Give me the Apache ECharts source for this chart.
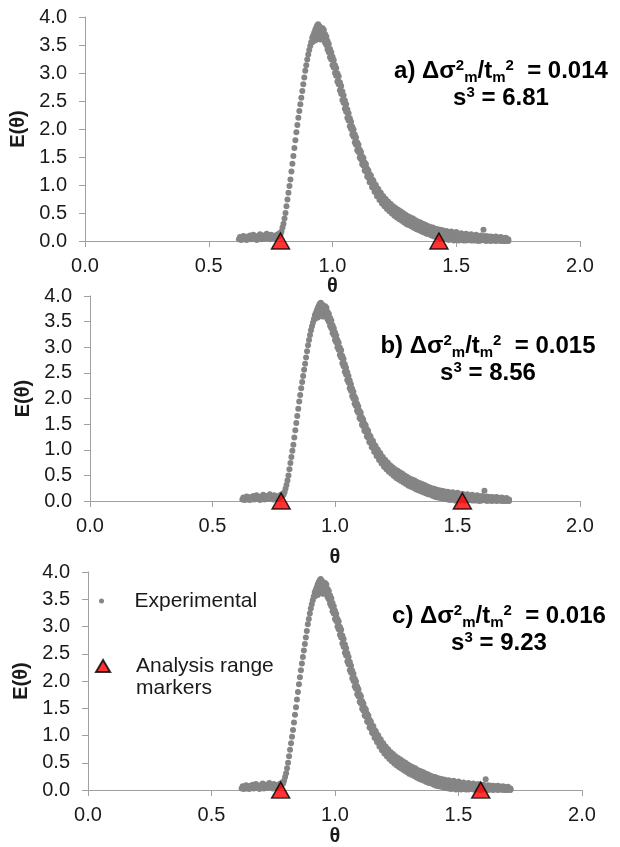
<!DOCTYPE html>
<html><head><meta charset="utf-8">
<script src="https://cdn.jsdelivr.net/npm/echarts@6/dist/echarts.min.js"></script>
<style>html,body{margin:0;padding:0;background:#fff}#c{width:620px;height:847px}</style>
</head><body><div id="c"></div>
<script>
// ---------- data ----------
const xTickLabels = ['0.0', '0.5', '1.0', '1.5', '2.0'];
const yTickLabels = ['0.0', '0.5', '1.0', '1.5', '2.0', '2.5', '3.0', '3.5', '4.0'];
const panelLabels = ['a)', 'b)', 'c)'];
const dispersion = ['0.014', '0.015', '0.016'];
const skewness = ['6.81', '8.56', '9.23'];
const markersA = [0.79, 1.43];
const markersB = [0.78, 1.52];
const markersC = [0.78, 1.59];

// experimental E(theta): each row = [theta, E values observed at that theta]
const expBaseline = [
 [0.622,0.03],[0.626,0.07],[0.631,0.02],[0.635,0.05],[0.640,0.09],[0.644,0.03],[0.649,0.06],[0.653,0.02],
 [0.658,0.08],[0.662,0.04],[0.667,0.10],[0.671,0.03],[0.676,0.06],[0.680,0.11],[0.685,0.04],[0.689,0.07],
 [0.694,0.02],[0.698,0.09],[0.703,0.05],[0.707,0.12],[0.712,0.03],[0.716,0.07],[0.721,0.10],[0.725,0.04],
 [0.730,0.08],[0.734,0.13],[0.739,0.05],[0.743,0.09],[0.748,0.03],[0.752,0.11],[0.757,0.06],[0.761,0.08],
 [0.766,0.04],[0.770,0.10],[0.775,0.07],[0.779,0.12],[0.783,0.09],[0.787,0.14]
];
const expRise = [
 [0.790,0.12],[0.794,0.17],[0.798,0.24],[0.802,0.31],[0.806,0.40],[0.810,0.50],[0.814,0.62],[0.818,0.74],
 [0.822,0.86],[0.826,0.98],[0.830,1.10],[0.834,1.24],[0.838,1.38],[0.842,1.52],[0.846,1.66],[0.850,1.80],
 [0.854,1.94],[0.858,2.07],[0.862,2.20],[0.866,2.32],[0.870,2.44],[0.874,2.56],[0.878,2.68],[0.882,2.80],
 [0.886,2.92],[0.890,3.04],[0.894,3.14],[0.898,3.24],[0.902,3.33],[0.906,3.41],[0.910,3.48],[0.914,3.55]
];
const expPeak = [
 [0.918,3.55,3.63],[0.922,3.58,3.67],[0.926,3.62,3.72],[0.930,3.58,3.67,3.77],[0.934,3.62,3.71,3.81],
 [0.938,3.64,3.74,3.85],[0.942,3.66,3.77,3.87],[0.946,3.62,3.75,3.84],[0.950,3.60,3.71,3.82],
 [0.954,3.62,3.70,3.80],[0.958,3.60,3.68,3.77]
];
const expDecay = [
 [0.960,3.63,3.74,3.80],[0.965,3.61,3.68,3.77],[0.970,3.54,3.64,3.69],[0.975,3.50,3.55,3.65],
 [0.980,3.42,3.53,3.57],[0.985,3.37,3.42,3.52],[0.990,3.28,3.38,3.43],[0.995,3.24,3.30,3.37],
 [1.000,3.14,3.24,3.29],[1.005,3.10,3.15,3.23],[1.010,3.00,3.10,3.14],[1.015,2.95,3.00,3.09],
 [1.020,2.85,2.95,2.99],[1.025,2.80,2.85,2.94],[1.030,2.69,2.79,2.83],[1.035,2.63,2.68,2.77],
 [1.040,2.52,2.62,2.67],[1.045,2.47,2.52,2.60],[1.050,2.36,2.46,2.51],[1.055,2.31,2.36,2.44],
 [1.060,2.20,2.30,2.35],[1.065,2.15,2.20,2.28],[1.070,2.05,2.15,2.19],[1.075,2.00,2.05,2.13],
 [1.080,1.90,2.00,2.04],[1.085,1.86,1.91,1.99],[1.090,1.76,1.86,1.90],[1.095,1.72,1.77,1.85],
 [1.100,1.62,1.72,1.76],[1.105,1.59,1.64,1.72],[1.110,1.49,1.59,1.63],[1.115,1.46,1.51,1.59],
 [1.120,1.37,1.47,1.51],[1.125,1.35,1.40,1.48],[1.130,1.26,1.36,1.40],[1.135,1.24,1.29,1.37],
 [1.140,1.15,1.25,1.29],[1.145,1.13,1.18,1.26],[1.150,1.05,1.15,1.19],[1.155,1.04,1.09,1.17],
 [1.160,0.96,1.06,1.10],[1.165,0.95,1.00,1.08],[1.170,0.88,0.98,1.02],[1.175,0.87,0.92,1.00],
 [1.180,0.80,0.90,0.94],[1.185,0.80,0.85,0.93],[1.190,0.73,0.83,0.87],[1.195,0.73,0.78,0.86],
 [1.200,0.67,0.77,0.81],[1.205,0.67,0.72,0.80],[1.210,0.62,0.72,0.75],[1.215,0.62,0.67,0.75],
 [1.220,0.57,0.67,0.70],[1.225,0.58,0.63,0.70],[1.230,0.53,0.63,0.66],[1.235,0.54,0.59,0.66],
 [1.240,0.49,0.59,0.62],[1.245,0.50,0.55,0.62],[1.250,0.45,0.55,0.58],[1.255,0.47,0.51,0.59],
 [1.260,0.42,0.51,0.55],[1.265,0.43,0.48,0.56],[1.270,0.39,0.48,0.52],[1.275,0.40,0.45,0.53],
 [1.280,0.36,0.45,0.49],[1.285,0.37,0.42,0.50],[1.290,0.33,0.42,0.46],[1.295,0.34,0.39,0.47],
 [1.300,0.30,0.39,0.43],[1.305,0.32,0.36,0.44],[1.310,0.28,0.37,0.40],[1.315,0.30,0.34,0.42],
 [1.320,0.26,0.35,0.38],[1.325,0.27,0.32,0.40],[1.330,0.23,0.32,0.35],[1.335,0.25,0.29,0.37],
 [1.340,0.21,0.30,0.33],[1.345,0.23,0.27,0.35],[1.350,0.19,0.27,0.31],[1.355,0.21,0.25,0.33],
 [1.360,0.17,0.25,0.29],[1.365,0.19,0.23,0.31],[1.370,0.15,0.23,0.27],[1.375,0.17,0.21,0.29],
 [1.380,0.13,0.21,0.25],[1.385,0.15,0.19,0.27],[1.390,0.12,0.19,0.23],[1.395,0.13,0.17,0.25],
 [1.400,0.10,0.17,0.21],[1.405,0.12,0.16,0.24],[1.410,0.08,0.15,0.19],[1.415,0.11,0.14,0.22],
 [1.420,0.07,0.14,0.18],[1.425,0.10,0.13,0.21],[1.430,0.06,0.13,0.17],[1.435,0.09,0.12,0.20],
 [1.440,0.05,0.12,0.16],[1.445,0.08,0.11,0.19],[1.450,0.04,0.11,0.15]
];
const expTail = [
 [1.46,0.03,0.09,0.13,0.18],[1.47,0.06,0.10,0.02,0.16],[1.48,0.03,0.08,0.12,0.17],[1.49,0.05,0.09,0.01,0.14],
 [1.50,0.02,0.07,0.11,0.16],[1.51,0.04,0.08,0.12,0.01],[1.52,0.02,0.06,0.10,0.14],[1.53,0.03,0.07,0.11,0.01],
 [1.54,0.01,0.05,0.09,0.13],[1.55,0.03,0.07,0.10,0.02],[1.56,0.01,0.05,0.08,0.12],[1.57,0.03,0.06,0.09,0.01],
 [1.58,0.01,0.04,0.08,0.11],[1.59,0.02,0.05,0.09,0.00],[1.60,0.01,0.04,0.07,0.10],[1.61,0.02,0.05,0.08,0.20],
 [1.62,0.00,0.03,0.06,0.09],[1.63,0.02,0.05,0.08,0.01],[1.64,0.00,0.03,0.06,0.08],[1.65,0.01,0.04,0.07,0.02],
 [1.66,0.00,0.03,0.05,0.08],[1.67,0.01,0.03,0.06,0.02],[1.68,0.00,0.02,0.05,0.07],[1.69,0.01,0.03,0.05,0.00],
 [1.70,0.00,0.02,0.04,0.06],[1.71,0.01,0.03,0.02,0.00]
];

// ---------- build ----------
const expPoints = [];
[expBaseline, expRise, expPeak, expDecay, expTail].forEach(rows => rows.forEach(r => {
  for (let i = 1; i < r.length; i++) expPoints.push([r[0], r[i]]);
}));
const markers = [markersA, markersB, markersC];

const FONT = "'Liberation Sans', Arial, sans-serif";
const TXT = '#1a1a1a';
const AXC = '#a0a0a0';
const grids = [
  {left: 85, top: 17, width: 495, height: 224},
  {left: 90, top: 296, width: 490, height: 205},
  {left: 88, top: 572, width: 494, height: 220}
];
const yNameGap = [51, 56, 54];
const xNameGap = [33, 46, 35];
const annoPos = [[501, 58], [488, 333], [499, 603]];

const xAxis = [], yAxis = [], series = [], graphic = [];
grids.forEach((g, i) => {
  xAxis.push({
    type: 'value', gridIndex: i, min: 0, max: 2, interval: 0.5,
    name: 'θ', nameLocation: 'middle', nameGap: xNameGap[i],
    nameTextStyle: {fontFamily: FONT, fontSize: 20, fontWeight: 'bold', color: TXT},
    axisLine: {show: true, lineStyle: {color: AXC, width: 1}},
    axisTick: {show: true, length: 6, lineStyle: {color: AXC}},
    splitLine: {show: false},
    axisLabel: {margin: 15, fontFamily: FONT, fontSize: 20, color: TXT,
      formatter: v => xTickLabels[Math.round(v / 0.5)]}
  });
  yAxis.push({
    type: 'value', gridIndex: i, min: 0, max: 4, interval: 0.5,
    name: 'E(θ)', nameLocation: 'middle', nameGap: yNameGap[i],
    nameTextStyle: {fontFamily: FONT, fontSize: 20, fontWeight: 'bold', color: TXT},
    axisLine: {show: true, lineStyle: {color: AXC, width: 1}},
    axisTick: {show: true, length: 6, lineStyle: {color: AXC}},
    splitLine: {show: false},
    axisLabel: {margin: 18, fontFamily: FONT, fontSize: 20, color: TXT,
      formatter: v => yTickLabels[Math.round(v / 0.5)]}
  });
  series.push({
    type: 'scatter', name: 'Experimental', xAxisIndex: i, yAxisIndex: i,
    data: expPoints, symbol: 'circle', symbolSize: 6,
    itemStyle: {color: '#858585', opacity: 1}, silent: true, z: 2
  });
  series.push({
    type: 'scatter', name: 'Analysis range markers', xAxisIndex: i, yAxisIndex: i,
    data: markers[i].map(t => [t, 0]), symbol: 'triangle', symbolSize: [18, 16],
    itemStyle: {color: '#ff0000', borderColor: '#000', borderWidth: 1.5},
    clip: false, silent: true, z: 5
  });
  graphic.push({
    type: 'text', x: annoPos[i][0], y: annoPos[i][1], z: 10,
    style: {
      text: '{n|' + panelLabels[i] + ' Δσ}{sup|2}{sub|m}{n|/t}{sub|m}{sup|2}{n|  = ' + dispersion[i] + '}\n' +
            '{n|s}{sup|3}{n| = ' + skewness[i] + '}',
      align: 'center', verticalAlign: 'top',
      rich: {
        n: {fontFamily: FONT, fontSize: 24, fontWeight: 'bold', fill: '#000', lineHeight: 27},
        sup: {fontFamily: FONT, fontSize: 15, fontWeight: 'bold', fill: '#000', verticalAlign: 'top'},
        sub: {fontFamily: FONT, fontSize: 15, fontWeight: 'bold', fill: '#000', verticalAlign: 'bottom'}
      }
    }
  });
});

const option = {
  animation: false,
  backgroundColor: '#fff',
  grid: grids,
  xAxis, yAxis, series, graphic,
  legend: [
    {data: [{name: 'Experimental', icon: 'circle'}], orient: 'vertical', left: 99, top: 590, padding: 0,
     itemWidth: 56, itemHeight: 5, selectedMode: false,
     textStyle: {fontFamily: FONT, fontSize: 21, color: TXT, lineHeight: 22}},
    {data: [{name: 'Analysis range markers', icon: 'path://M10,0 L20,17 L0,17 Z'}], orient: 'vertical',
     left: 95, top: 633, padding: 0, itemWidth: 56, itemHeight: 12, selectedMode: false,
     formatter: () => '\nAnalysis range\nmarkers',
     textStyle: {fontFamily: FONT, fontSize: 21, color: TXT, lineHeight: 22}}
  ]
};
const chart = echarts.init(document.getElementById('c'), null, {renderer: 'canvas'});
chart.setOption(option);
</script></body></html>
